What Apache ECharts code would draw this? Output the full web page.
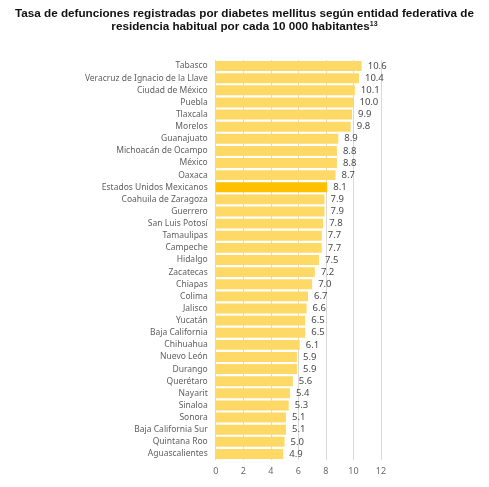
<!DOCTYPE html>
<html><head><meta charset="utf-8">
<script src="https://cdn.jsdelivr.net/npm/echarts@6/dist/echarts.min.js"></script>
<style>html,body{margin:0;padding:0;background:#fff}#c{width:489px;height:487px}</style>
</head><body><div id="c"></div>
<script>
const categories = ["Tabasco","Veracruz de Ignacio de la Llave","Ciudad de México","Puebla","Tlaxcala","Morelos","Guanajuato","Michoacán de Ocampo","México","Oaxaca","Estados Unidos Mexicanos","Coahuila de Zaragoza","Guerrero","San Luis Potosí","Tamaulipas","Campeche","Hidalgo","Zacatecas","Chiapas","Colima","Jalisco","Yucatán","Baja California","Chihuahua","Nuevo León","Durango","Querétaro","Nayarit","Sinaloa","Sonora","Baja California Sur","Quintana Roo","Aguascalientes"];
const values = [10.6,10.4,10.1,10.0,9.9,9.8,8.9,8.8,8.8,8.7,8.1,7.9,7.9,7.8,7.7,7.7,7.5,7.2,7.0,6.7,6.6,6.5,6.5,6.1,5.9,5.9,5.6,5.4,5.3,5.1,5.1,5.0,4.9];
const highlight = "Estados Unidos Mexicanos";
const xTicks = [0,2,4,6,8,10,12];

const chart = echarts.init(document.getElementById('c'), null, {renderer:'canvas'});
chart.setOption({
  animation:false,
  title:{
    text:"Tasa de defunciones registradas por diabetes mellitus según entidad federativa de\n{t|residencia habitual por cada 10 000 habitantes}{s|13}",
    left:'center', top:2, padding:[5,8,5,0],
    textStyle:{fontFamily:'Liberation Sans', fontWeight:'bold', fontSize:11.7, color:'#111', lineHeight:13.5,
      rich:{t:{fontFamily:'Liberation Sans', fontWeight:'bold', fontSize:11.7, color:'#111', lineHeight:13.5},
            s:{fontFamily:'Liberation Sans', fontWeight:'bold', fontSize:7, color:'#111', verticalAlign:'top', lineHeight:13.5, padding:[0,0,6,0]}}}
  },
  grid:{left:215.7, right:108, top:60, bottom:27, containLabel:false},
  xAxis:{type:'value', min:0, max:12, interval:2,
    axisLine:{show:false}, axisTick:{show:false},
    splitLine:{lineStyle:{color:'#d9d9d9', width:1}},
    axisLabel:{color:'#6a6a6a', fontFamily:'Noto Sans', fontSize:9, margin:7,
      formatter:v=>xTicks.includes(v)?String(v):''}
  },
  yAxis:{type:'category', inverse:true, data:categories,
    axisLine:{show:false}, axisTick:{show:false},
    axisLabel:{color:'#5f5f5f', fontFamily:'Noto Sans', fontSize:8.5, margin:8}
  },
  series:[{type:'bar', barCategoryGap:'18%',
    data:values.map((v,i)=>({value:v, itemStyle:{color: categories[i]===highlight?'#FFC000':'#FFD966'}})),
    label:{show:true, position:'right', distance:6, color:'#4a4a4a', fontFamily:'Noto Sans', fontSize:9.5,
      formatter:p=>p.value.toFixed(1)}
  }]
});
</script></body></html>
